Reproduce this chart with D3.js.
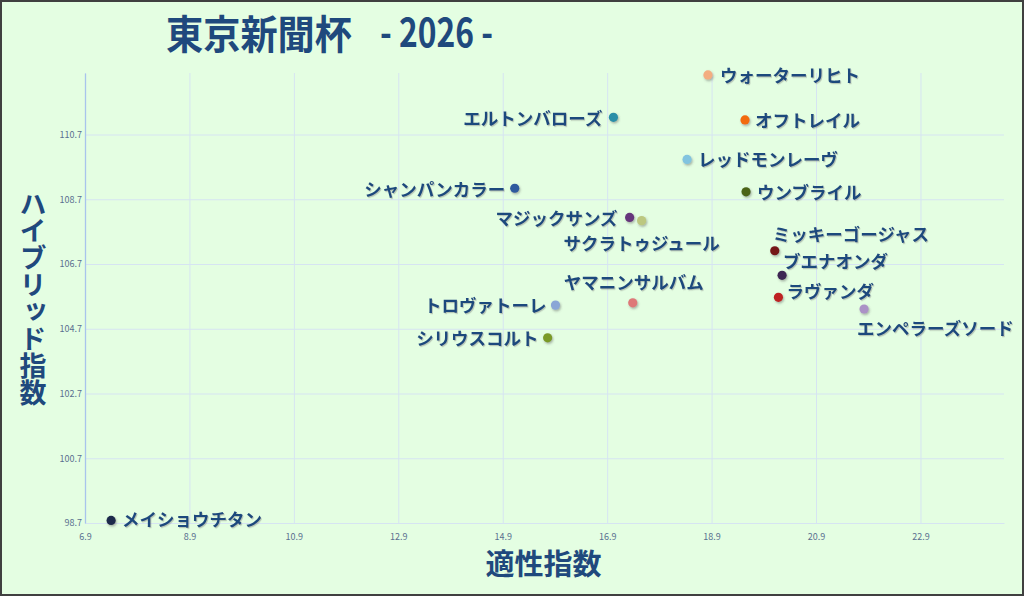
<!DOCTYPE html>
<html>
<head>
<meta charset="utf-8">
<script src="https://cdn.jsdelivr.net/npm/d3@7/dist/d3.min.js"></script>
<style>
  html, body { margin: 0; padding: 0; background: #fff; }
  svg { display: block; }
  text { font-family: "Noto Sans CJK JP", "Noto Sans", sans-serif; }
</style>
</head>
<body>
<svg id="chart" width="1024" height="596"></svg>
<script>
// ---- data ----
const horses = ["メイショウチタン","シャンパンカラー","エルトンバローズ","マジックサンズ","サクラトゥジュール","ウォーターリヒト","オフトレイル","レッドモンレーヴ","ウンブライル","ミッキーゴージャス","ブエナオンダ","ラヴァンダ","エンペラーズソード","ヤマニンサルバム","トロヴァトーレ","シリウスコルト"];
const aptitude = [7.4, 15.13, 17.02, 17.33, 17.56, 18.83, 19.54, 18.43, 19.56, 20.11, 20.25, 20.18, 21.82, 17.39, 15.91, 15.76];
const hybrid   = [98.78, 109.04, 111.23, 108.14, 108.04, 112.54, 111.15, 109.93, 108.93, 107.11, 106.35, 105.67, 105.31, 105.5, 105.43, 104.42];
const xTicks = [6.9, 8.9, 10.9, 12.9, 14.9, 16.9, 18.9, 20.9, 22.9];
const yTicks = [98.7, 100.7, 102.7, 104.7, 106.7, 108.7, 110.7];
const titleMain = "東京新聞杯";
const titleYear = "- 2026 -";
const xTitle = "適性指数";
const yTitle = "ハイブリッド指数";

// ---- styles / layout ----
const colors = ["#1c2c4c","#2d5a9e","#2a8fa8","#66367c","#bcc880","#f3ad80","#f26a0a","#82c4df","#4b6417","#741418","#3e2752","#be2222","#ab92c6","#de7878","#8aa6d6","#7a9a28"];
const labelPlace = [
  ["start", 11, -1.5], ["end", -9.5, 0], ["end", -11, 0], ["end", -12, 0],
  ["middle", 0, 22], ["start", 12, 0], ["start", 10, 0], ["start", 11, -1],
  ["start", 11, 0], ["start", -2, -17], ["start", 1, -15], ["start", 8, -7],
  ["start", -7, 18], ["middle", 1, -21], ["end", -9, -1], ["end", -9, 0]
];
const W = 1024, H = 596;
const plot = {left: 85, right: 1004, top: 73, bottom: 523};
const ink = "#1f497d";

const svg = d3.select("#chart");
const defs = svg.append("defs");
const f1 = defs.append("filter").attr("id","dshadow").attr("x","-50%").attr("y","-50%").attr("width","200%").attr("height","200%");
f1.append("feDropShadow").attr("dx",1).attr("dy",1.5).attr("stdDeviation",1).attr("flood-color","#555").attr("flood-opacity",0.45);
const f2 = defs.append("filter").attr("id","tshadow").attr("x","-10%").attr("y","-30%").attr("width","120%").attr("height","160%");
f2.append("feDropShadow").attr("dx",1).attr("dy",1.2).attr("stdDeviation",0.6).attr("flood-color","#666").attr("flood-opacity",0.35);

// background + border
svg.append("rect").attr("x",1).attr("y",1).attr("width",W-2).attr("height",H-2)
  .attr("fill","#e4fee2").attr("stroke","#404040").attr("stroke-width",2);

const x = d3.scaleLinear().domain([6.9, 24.5]).range([plot.left, plot.right]);
const y = d3.scaleLinear().domain([98.7, 112.6]).range([plot.bottom, plot.top]);

// grid + axes
const gx = svg.append("g").attr("transform",`translate(0,${plot.bottom})`)
  .call(d3.axisBottom(x).tickValues(xTicks).tickSizeInner(-(plot.bottom-plot.top)).tickSizeOuter(0)
        .tickFormat(d3.format(".1f")).tickPadding(10.5));
gx.select(".domain").attr("stroke","#d3e3f3").attr("stroke-width",1.2);
gx.selectAll(".tick line").attr("stroke","#d6e4f2").attr("stroke-width",1);
gx.selectAll(".tick text").attr("fill","#5a7090").attr("font-size",9).attr("font-family","'Liberation Sans', sans-serif");

const gy = svg.append("g").attr("transform",`translate(${plot.left},0)`)
  .call(d3.axisLeft(y).tickValues(yTicks).tickSizeInner(-(plot.right-plot.left)).tickSizeOuter(0)
        .tickFormat(d3.format(".1f")).tickPadding(3));
gy.select(".domain").attr("stroke","#a8c4ec").attr("stroke-width",1.3);
gy.selectAll(".tick line").attr("stroke","#d6e4f2").attr("stroke-width",1);
gy.selectAll(".tick text").attr("fill","#5a7090").attr("font-size",9).attr("font-family","'Liberation Sans', sans-serif");
gy.select(".domain").raise();

// points
const data = horses.map((h,i)=>({name:h, xv:aptitude[i], yv:hybrid[i], c:colors[i], lp:labelPlace[i]}));
svg.append("g").selectAll("circle").data(data).join("circle")
  .attr("cx",d=>x(d.xv)).attr("cy",d=>y(d.yv)).attr("r",4.6)
  .attr("fill",d=>d.c).attr("filter","url(#dshadow)");

svg.append("g").selectAll("text").data(data).join("text")
  .attr("x",d=>x(d.xv)+d.lp[1]).attr("y",d=>y(d.yv)+d.lp[2])
  .attr("text-anchor",d=>d.lp[0]).attr("dominant-baseline","central")
  .attr("font-size",17.5).attr("font-weight",700).attr("fill",ink)
  .attr("filter","url(#tshadow)")
  .text(d=>d.name);

// title
svg.append("text").attr("x",166).attr("y",49).attr("font-size",40).attr("font-weight",700)
  .attr("fill",ink).attr("textLength",186).attr("lengthAdjust","spacingAndGlyphs").text(titleMain);
svg.append("text").attr("x",380).attr("y",47).attr("font-size",40).attr("font-weight",700)
  .attr("fill",ink).attr("textLength",113).attr("lengthAdjust","spacingAndGlyphs").text(titleYear);

// axis titles
svg.append("text").attr("x",(plot.left+plot.right)/2 - 1).attr("y",575).attr("text-anchor","middle")
  .attr("font-size",29).attr("font-weight",700).attr("fill",ink).text(xTitle);
svg.append("text").attr("x",33).attr("y",(plot.top+plot.bottom)/2)
  .attr("text-anchor","middle").attr("font-size",27).attr("font-weight",600).attr("fill",ink)
  .style("writing-mode","vertical-rl").style("text-orientation","upright")
  .text(yTitle);
</script>
</body>
</html>
